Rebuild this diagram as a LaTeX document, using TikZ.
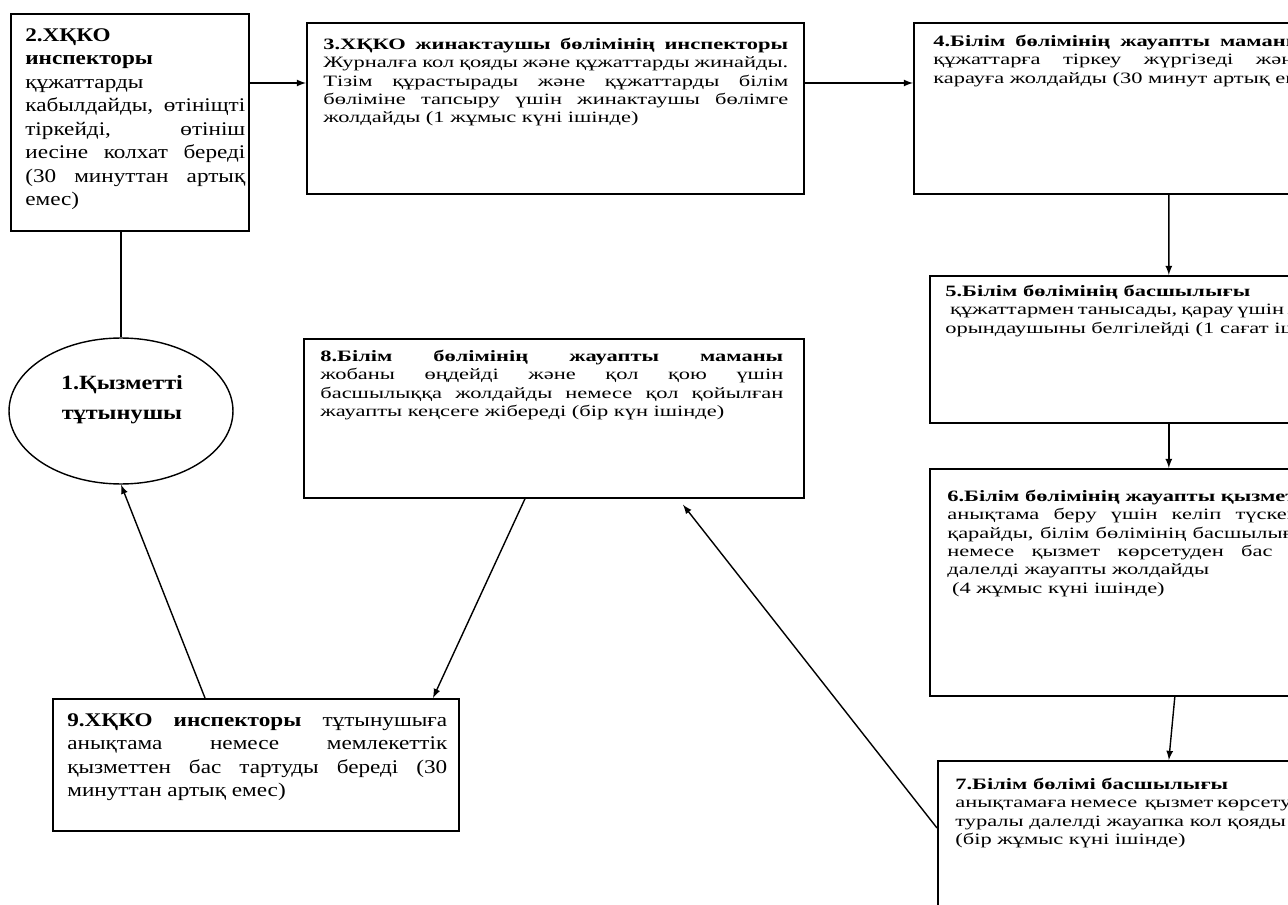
\documentclass[tikz,border=0pt]{standalone}
\usepackage{fontspec}
\setmainfont[FakeStretch=1.42]{Liberation Serif}
\newfontfamily\ulkenfont[FakeStretch=1.2]{Liberation Serif}
\usetikzlibrary{shapes.geometric}
% one justified line of a box
\newcommand{\jq}[1]{\makebox[\hsize][s]{\spaceskip=0pt\xspaceskip=0pt #1}\\}
\begin{document}
\begin{tikzpicture}[x=0.02cm,y=-0.02cm,
  blok/.style={draw,line width=1pt,inner sep=0pt,anchor=north west},
  matin/.style={inner sep=0pt,anchor=north west,align=justify,font=\fontsize{9}{10.4}\selectfont},
  ulken/.style={matin,font=\ulkenfont\fontsize{11}{13.4}\selectfont},
  baq/.style={line width=0.8pt,-latex}]
\path[use as bounding box,clip] (0,0) rectangle (1288,905);
% boxes
\node[blok,minimum width=4.76cm,minimum height=4.34cm] (b2) at (10,13) {};
\node[ulken,text width=4.4cm] (t2) at (25,28) {\textbf{2.ХҚКО}\\
\textbf{инспекторы}\\
құжаттарды\\
\jq{кабылдайды, өтініщті}
\jq{тіркейді, өтініш}
\jq{иесіне колхат береді}
\jq{(30 минуттан артық}
емес)};
\node[blok,minimum width=9.94cm,minimum height=3.42cm] (b3) at (306,22) {};
\node[matin,text width=9.3cm] (t3) at (323,38) {\jq{\textbf{3.ХҚКО жинактаушы бөлімінің инспекторы}}
\jq{Журналға кол қояды және құжаттарды жинайды.}
\jq{Тізім құрастырады және құжаттарды білім}
\jq{бөліміне тапсыру үшін жинактаушы бөлімге}
жолдайды (1 жұмыс күні ішінде)};
\node[blok,minimum width=10.2cm,minimum height=3.42cm] (b4) at (913,22) {};
\node[matin,text width=7.4cm] (t4) at (933,35) {\jq{\textbf{4.Білім бөлімінің жауапты маманы}}
\jq{құжаттарға тіркеу жүргізеді және}
\mbox{карауға жолдайды (30 минут артық емес)}};
\node[blok,minimum width=9.56cm,minimum height=2.94cm] (b5) at (929,275) {};
\node[matin,text width=8.4cm] (t5) at (945,285) {\textbf{5.Білім бөлімінің басшылығы}\\
\jq{\hspace*{0.3em}құжаттармен танысады, қарау үшін жауапты}
орындаушыны белгілейді (1 сағат ішінде)};
\node[blok,minimum width=9.56cm,minimum height=4.54cm] (b6) at (929,468) {};
\node[matin,text width=9.6cm] (t6) at (947,490) {\textbf{6.Білім бөлімінің жауапты қызметкері}\\
\jq{анықтама беру үшін келіп түскен құжаттарды}
\jq{қарайды, білім бөлімінің басшылығына анықтама}
\jq{немесе қызмет көрсетуден бас тарту туралы}
далелді жауапты жолдайды\\
\hspace*{0.3em}(4 жұмыс күні ішінде)};
\node[blok,minimum width=9.24cm,minimum height=4cm] (b7) at (937,760) {};
\node[matin,text width=8.6cm] (t7) at (955,778) {\textbf{7.Білім бөлімі басшылығы}\\
\jq{анықтамаға немесе\ \ қызмет көрсетуден бас тарту}
туралы далелді жауапка кол қояды\\
(бір жұмыс күні ішінде)};
\node[blok,minimum width=10cm,minimum height=3.18cm] (b8) at (303,338) {};
\node[matin,text width=9.26cm] (t8) at (320,350) {\jq{\textbf{8.Білім бөлімінің жауапты маманы}}
\jq{жобаны өңдейді және қол қою үшін}
\jq{басшылыққа жолдайды немесе қол қойылған}
жауапты кеңсеге жібереді (бір күн ішінде)};
\node[blok,minimum width=8.12cm,minimum height=2.64cm] (b9) at (52,698) {};
\node[ulken,text width=7.6cm] (t9) at (67,713) {\jq{\textbf{9.ХҚКО инспекторы} тұтынушыға}
\jq{анықтама немесе мемлекеттік}
\jq{қызметтен бас тартуды береді (30}
минуттан артық емес)};
% consumer
\node[ellipse,draw,line width=0.8pt,minimum width=4.48cm,minimum height=2.92cm] (c1) at (121,411) {};
\node[align=center,inner sep=0pt,font=\ulkenfont\fontsize{11.5}{17}\selectfont\bfseries,anchor=north] (t1) at (122,375) {1.Қызметті\\тұтынушы};
% connectors
\draw[line width=0.8pt] (c1.north |- b2.south) -- (c1.north);
\draw[baq] ([shift={(0,70)}]b2.north east) -- ([shift={(0,61)}]b3.north west);
\draw[baq] ([shift={(0,61)}]b3.north east) -- ([shift={(0,61)}]b4.north west);
\draw[baq] (b4.south) -- (b5.north);
\draw[baq] (b5.south) -- (b6.north);
\draw[baq] ([shift={(6,0)}]b6.south) -- (b7.north);
\draw[baq] ([shift={(0,68)}]b7.north west) -- ([shift={(380,6)}]b8.south west);
\draw[baq] ([shift={(222,0)}]b8.south west) -- ([shift={(381,0)}]b9.north west);
\draw[baq] ([shift={(153,0)}]b9.north west) -- (c1.south);
\end{tikzpicture}
\end{document}
